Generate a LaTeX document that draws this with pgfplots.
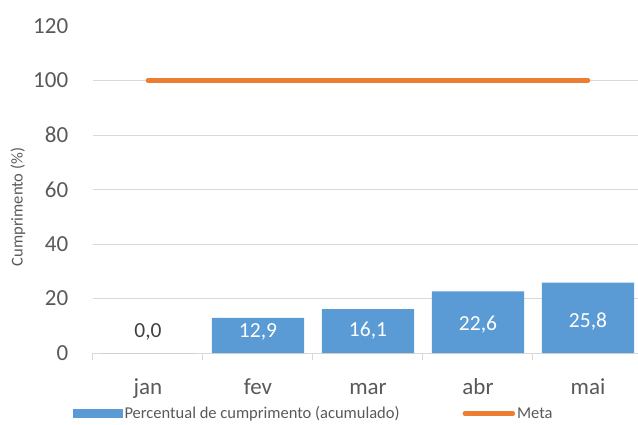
\documentclass[border=0pt]{standalone}
\usepackage{fontspec}
\setmainfont{Carlito}
\usepackage{pgfplots}
\pgfplotsset{compat=1.18}
\definecolor{barblue}{HTML}{5B9BD5}
\definecolor{metaorange}{HTML}{ED7D31}
\definecolor{txtgray}{HTML}{595959}
\definecolor{lblgray}{HTML}{404040}
\definecolor{gridgray}{HTML}{D9D9D9}

\begin{document}
\begin{tikzpicture}[x=1pt,y=1pt]
\path[use as bounding box] (0,0) rectangle (638,424);
\clip (0,0) rectangle (638,424);
\begin{axis}[
  at={(93pt,71pt)}, anchor=south west,
  scale only axis, width=550pt, height=327pt,
  xmin=-0.5, xmax=4.5, ymin=0, ymax=120,
  axis x line*=bottom, axis y line*=left,
  y axis line style={draw=none},
  x axis line style={draw=gridgray, line width=1pt},
  xtick={0,1,2,3,4},
  xticklabels={jan,fev,mar,abr,mai},
  xtick style={draw=none},
  minor xtick={-0.5,0.5,1.5,2.5,3.5,4.5},
  minor x tick style={draw=gridgray, line width=1pt},
  minor tick length=7pt,
  tick align=outside,
  ytick={0,20,40,60,80,100,120},
  ytick style={draw=none},
  extra y ticks={20,40,60,80,100},
  extra y tick labels={},
  extra y tick style={grid=major, major grid style={draw=gridgray, line width=1pt}},
  yticklabel style={font=\fontsize{23}{27}\selectfont, text=txtgray, xshift=-17pt},
  xticklabel style={font=\fontsize{23}{27}\selectfont, text=txtgray, anchor=base, yshift=-37pt},
  /pgf/number format/assume math mode=true,
  legend style={at={(0.401,-0.185)}, anchor=center, draw=none, fill=none,
    legend columns=2, font=\fontsize{16.5}{20}\selectfont, text=txtgray,
    /tikz/every even column/.append style={column sep=61pt},
    nodes={inner xsep=2pt}},
]
\addplot[ybar, bar shift=0pt, bar width=0.84, fill=barblue, draw=none,
  legend image code/.code={\fill[barblue] (0pt,-4.5pt) rectangle (50pt,4.5pt);}]
  coordinates {(0,0) (1,12.9) (2,16.1) (3,22.6) (4,25.8)};
\addlegendentry{Percentual de cumprimento (acumulado)}
\addplot[metaorange, line width=4.5pt, line cap=round,
  legend image code/.code={\draw[metaorange, line width=4.5pt, line cap=round] (2pt,0pt) -- (50pt,0pt);}]
  coordinates {(0,100) (1,100) (2,100) (3,100) (4,100)};
\addlegendentry{Meta}
\node[anchor=base, text=lblgray, font=\fontsize{21.5}{26}\selectfont] at (axis cs:0,5.6) {0,0};
\node[anchor=base, text=white, font=\fontsize{21.5}{26}\selectfont] at (axis cs:1,5.6) {12,9};
\node[anchor=base, text=white, font=\fontsize{21.5}{26}\selectfont] at (axis cs:2,5.9) {16,1};
\node[anchor=base, text=white, font=\fontsize{21.5}{26}\selectfont] at (axis cs:3,8.1) {22,6};
\node[anchor=base, text=white, font=\fontsize{21.5}{26}\selectfont] at (axis cs:4,9.5) {25,8};
\end{axis}
\node[rotate=90, text=txtgray, font=\fontsize{16.5}{20}\selectfont] at (18,217) {Cumprimento (\%)};
\end{tikzpicture}
\end{document}
